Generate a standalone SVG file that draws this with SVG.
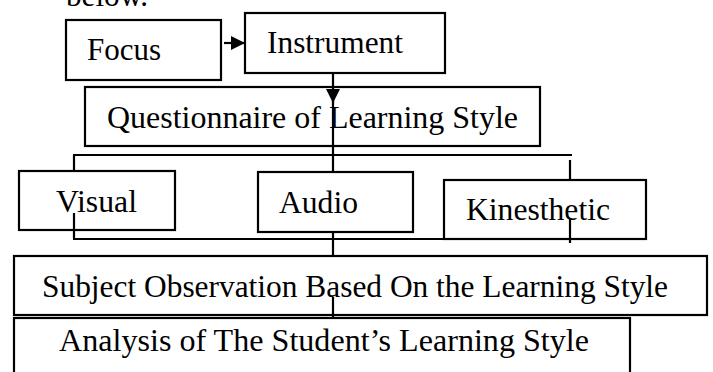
<svg xmlns="http://www.w3.org/2000/svg" width="713" height="372" viewBox="0 0 713 372">
  <style>
    .box { fill: #ffffff; stroke: #000000; stroke-width: 2.2; }
    .lbl { font-family: "Liberation Serif", "Times New Roman", serif; font-size: 32px; fill: #000000; }
    .wire { fill: none; stroke: #000000; stroke-width: 2.2; }
  </style>
  <defs>
    <marker id="head" viewBox="0 0 10 10" refX="10" refY="5" markerWidth="14" markerHeight="14" markerUnits="userSpaceOnUse" orient="auto">
      <path d="M0,0 L10,5 L0,10 Z" fill="#000000"/>
    </marker>
  </defs>
  <rect width="713" height="372" fill="#ffffff"/>

  <!-- lead-in sentence, mostly above the visible area -->
  <text class="lbl" x="66" y="6" textLength="82" lengthAdjust="spacingAndGlyphs">below.</text>

  <g id="focus">
    <rect class="box" x="66" y="20" width="155" height="60"/>
    <text class="lbl" x="87" y="60" textLength="74" lengthAdjust="spacingAndGlyphs">Focus</text>
  </g>
  <g id="instrument">
    <rect class="box" x="245" y="13" width="200" height="60"/>
    <text class="lbl" x="267" y="53" textLength="136" lengthAdjust="spacingAndGlyphs">Instrument</text>
  </g>
  <g id="questionnaire">
    <rect class="box" x="85" y="87" width="455" height="59"/>
    <text class="lbl" x="107" y="128" textLength="411" lengthAdjust="spacingAndGlyphs">Questionnaire of Learning Style</text>
  </g>
  <g id="visual">
    <rect class="box" x="19" y="171" width="156" height="59"/>
    <text class="lbl" x="56" y="212" textLength="81" lengthAdjust="spacingAndGlyphs">Visual</text>
  </g>
  <g id="audio">
    <rect class="box" x="258" y="172" width="155" height="60"/>
    <text class="lbl" x="279" y="213" textLength="79" lengthAdjust="spacingAndGlyphs">Audio</text>
  </g>
  <g id="kinesthetic">
    <rect class="box" x="444" y="180" width="202" height="59"/>
    <text class="lbl" x="466" y="220" textLength="144" lengthAdjust="spacingAndGlyphs">Kinesthetic</text>
  </g>
  <g id="observation">
    <rect class="box" x="14" y="256" width="693" height="59"/>
    <text class="lbl" x="42" y="297" textLength="626" lengthAdjust="spacingAndGlyphs">Subject Observation Based On the Learning Style</text>
  </g>
  <g id="analysis">
    <rect class="box" x="14" y="318" width="616" height="70"/>
    <text class="lbl" x="59" y="351" textLength="530" lengthAdjust="spacingAndGlyphs">Analysis of The Student’s Learning Style</text>
  </g>

  <g id="connectors">
    <!-- Focus to Instrument -->
    <line class="wire" x1="224" y1="43" x2="245" y2="43" marker-end="url(#head)"/>
    <!-- Instrument down through the questionnaire -->
    <line class="wire" x1="333" y1="73" x2="333" y2="103" marker-end="url(#head)"/>
    <line class="wire" x1="333" y1="100" x2="333" y2="172"/>
    <!-- branch bar to the three styles -->
    <line class="wire" x1="73" y1="155" x2="572" y2="155"/>
    <line class="wire" x1="74" y1="155" x2="74" y2="171"/>
    <line class="wire" x1="570" y1="160" x2="570" y2="180"/>
    <!-- collecting bar below the styles -->
    <line class="wire" x1="74" y1="213" x2="74" y2="239"/>
    <line class="wire" x1="73" y1="239" x2="444" y2="239"/>
    <line class="wire" x1="570" y1="218" x2="570" y2="243"/>
    <line class="wire" x1="333" y1="232" x2="333" y2="256"/>
    <!-- observation to analysis -->
    <line class="wire" x1="333" y1="297" x2="333" y2="317"/>
  </g>
</svg>
